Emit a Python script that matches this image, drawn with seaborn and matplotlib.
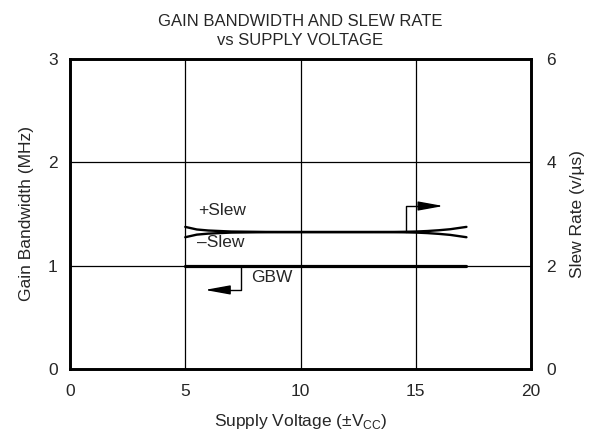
import numpy as np
import pandas as pd
import seaborn as sns
import matplotlib.pyplot as plt

# supply voltage (±Vcc)
supply_v = [5, 5.5, 6, 6.5, 7, 8, 9, 10, 11, 12, 13, 14, 14.5, 15, 15.5, 16, 16.5, 17.2]
# slew rate (V/us), right axis
plus_slew = [2.75, 2.70, 2.68, 2.67, 2.66, 2.655, 2.65, 2.65, 2.65, 2.65, 2.65, 2.652,
             2.655, 2.66, 2.67, 2.685, 2.705, 2.75]
minus_slew = [2.55, 2.60, 2.62, 2.63, 2.64, 2.645, 2.65, 2.65, 2.65, 2.65, 2.65, 2.648,
              2.645, 2.64, 2.63, 2.615, 2.595, 2.55]
# gain bandwidth (MHz), left axis
gbw_v = [5, 17.2]
gbw = [1.0, 1.0]

sns.set_style("white")
plt.rcParams['font.family'] = ['Liberation Sans', 'DejaVu Sans']

fig = plt.figure(figsize=(6.01, 4.40), dpi=100)
ax = fig.add_axes([0.1165, 0.1614, 0.767, 0.7046])
ax2 = ax.twinx()

df_gbw = pd.DataFrame({'v': gbw_v, 'gbw': gbw})
df_slew = pd.DataFrame({'v': supply_v, 'plus': plus_slew, 'minus': minus_slew})

for x in [5, 10, 15]:
    ax.axvline(x, color='black', lw=0.9, zorder=1)
for y in [1, 2]:
    ax.axhline(y, color='black', lw=0.9, zorder=1)

sns.lineplot(data=df_gbw, x='v', y='gbw', ax=ax, color='black', lw=2.3, zorder=3)
sns.lineplot(data=df_slew, x='v', y='plus', ax=ax2, color='black', lw=1.7, zorder=3)
sns.lineplot(data=df_slew, x='v', y='minus', ax=ax2, color='black', lw=1.7, zorder=3)

ax.set_xlim(0, 20)
ax.set_ylim(0, 3)
ax2.set_ylim(0, 6)
ax.set_xticks([0, 5, 10, 15, 20])
ax.set_yticks([0, 1, 2, 3])
ax2.set_yticks([0, 2, 4, 6])

fs = 12.5
ax.tick_params(axis='both', length=0, labelsize=fs, pad=9)
ax.tick_params(axis='x', pad=11)
ax2.tick_params(axis='y', length=0, labelsize=fs, pad=11)

ax.set_xlabel('Supply Voltage (±V$_{\\mathregular{CC}}$)', fontsize=fs, labelpad=9)
ax.set_ylabel('Gain Bandwidth (MHz)', fontsize=fs, labelpad=10)
ax2.set_ylabel('Slew Rate (v/µs)', fontsize=fs, labelpad=10)
ax.set_title('GAIN BANDWIDTH AND SLEW RATE\nvs SUPPLY VOLTAGE', fontsize=12, pad=10,
             linespacing=1.35)

for a in (ax, ax2):
    for s in a.spines.values():
        s.set_linewidth(1.9)
        s.set_color('black')

# curve labels and pointer arrows
ax.text(5.55, 1.53, '+Slew', fontsize=fs, va='center')
ax.text(5.5, 1.22, '–Slew', fontsize=fs, va='center')
ax.text(7.85, 0.89, 'GBW', fontsize=fs, va='center')

head = '-|>,head_length=1.1,head_width=0.2'
ax.plot([14.58, 14.58, 15.3], [1.326, 1.577, 1.577], color='black', lw=1.0, zorder=4)
ax.annotate('', xy=(16.2, 1.577), xytext=(15.2, 1.577),
            arrowprops=dict(arrowstyle=head, color='black',
                            lw=1.0, mutation_scale=14, shrinkA=0, shrinkB=0))
ax.plot([7.42, 7.42, 6.7], [1.0, 0.765, 0.765], color='black', lw=1.0, zorder=4)
ax.annotate('', xy=(5.85, 0.765), xytext=(6.8, 0.765),
            arrowprops=dict(arrowstyle=head, color='black',
                            lw=1.0, mutation_scale=14, shrinkA=0, shrinkB=0))

fig.savefig('out.png', dpi=100)
